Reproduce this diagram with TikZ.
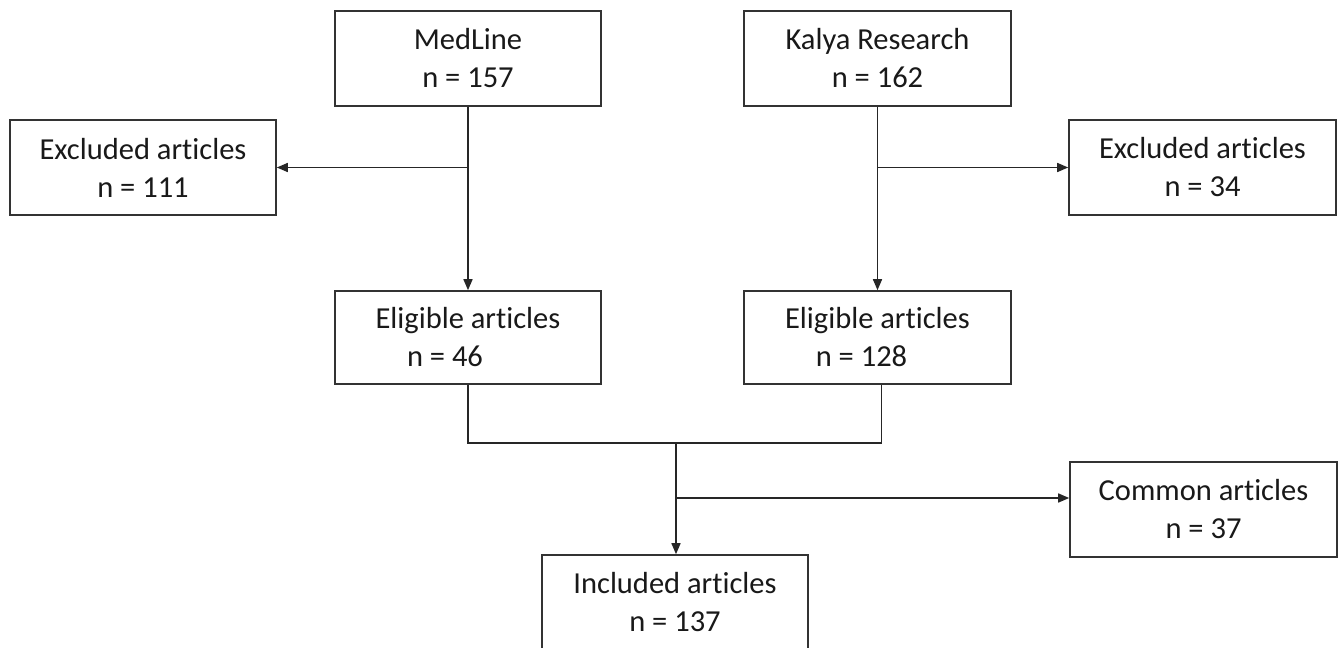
\documentclass[tikz,border=0pt]{standalone}
\usepackage{fontspec}
\setmainfont[Ligatures={NoCommon},RawFeature={-liga;-clig;-calt;-dlig}]{Carlito}
\usetikzlibrary{arrows.meta}
\begin{document}
\begin{tikzpicture}[x=1pt,y=-1pt,
  box/.style={draw=black!80, line width=1.6pt, rectangle, inner sep=0pt,
    minimum width=266pt, minimum height=95pt, align=center,
    font=\fontsize{30.5}{38}\selectfont, text=black!90},
  arr/.style={draw=black!85, line width=1.5pt,
    -{Triangle[length=11pt,width=9pt]}},
  ln/.style={draw=black!85, line width=1.5pt}]
\clip (0,0) rectangle (1339,648);
\fill[white] (0,0) rectangle (1339,648);
% boxes
\node[box] (med) at (468,58.5) {MedLine\\n = 157};
\node[box, minimum width=267pt] (kal) at (877.5,58.5) {Kalya Research\\n = 162};
\node[box] (exL) at (143,167.5) {Excluded articles\\n = 111};
\node[box, minimum width=267pt] (exR) at (1202.5,167.5) {Excluded articles\\n = 34};
\node[box, minimum height=93pt] (elL) at (468,337.5) {Eligible articles\\n = 46\hspace*{46pt}};
\node[box, minimum width=267pt, minimum height=93pt] (elR) at (877.5,337.5) {Eligible articles\\n = 128\hspace*{32pt}};
\node[box, minimum width=267pt] (com) at (1203.5,509.5) {Common articles\\n = 37};
\node[box] (inc) at (675,602.5) {Included articles\\n = 137};
% connectors
\draw[arr] (med.south) -- (elL.north);
\draw[arr] (med.south |- exL.east) -- (exL.east);
\draw[arr] (kal.south) -- (elR.north);
\draw[arr] (kal.south |- exR.west) -- (exR.west);
\coordinate (rs) at ([xshift=4pt]elR.south);
\coordinate (j) at (676,443);
\draw[ln] (elL.south) -- (elL.south |- j) -- (rs |- j) -- (rs);
\draw[arr] (j) -- (j |- inc.north);
\coordinate (b) at (676,498);
\draw[arr] (b) -- (b -| com.west);
\end{tikzpicture}
\end{document}
